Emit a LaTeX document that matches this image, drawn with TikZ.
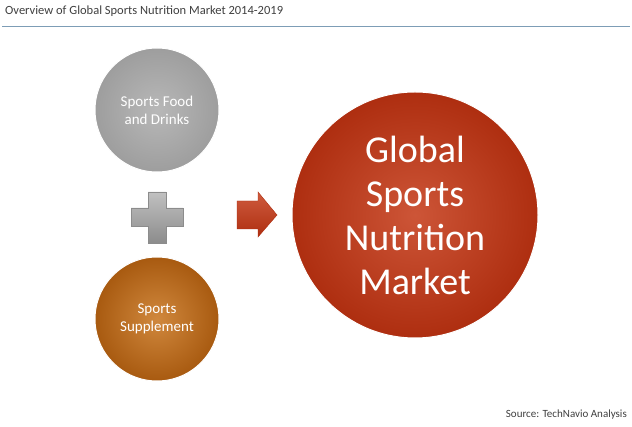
\documentclass[tikz,border=0pt]{standalone}
\usepackage{fontspec}
\setmainfont{Carlito}
\definecolor{titleline}{HTML}{7D9DB6}
\definecolor{grayc}{HTML}{A6A6A6}
\definecolor{grayd}{HTML}{8C8C8C}
\definecolor{orangec}{HTML}{C8731B}
\definecolor{oranged}{HTML}{A85A10}
\definecolor{redc}{HTML}{C63E1C}
\definecolor{redd}{HTML}{AE2E10}
\definecolor{txtgray}{HTML}{404040}
\tikzset{
  bubble/.style={circle, inner sep=0pt, text=white, align=center, draw=white, line width=1pt},
  smallbub/.style={bubble, minimum size=124pt, font=\fontsize{15}{18}\selectfont},
  bigbub/.style={bubble, minimum size=246pt, font=\fontsize{38}{44}\selectfont},
  plusbar/.style={draw=grayd, line width=0.4pt},
}
\begin{document}
\begin{tikzpicture}[x=1pt,y=-1pt]
\useasboundingbox (0,0) rectangle (632,427);
\fill[white] (0,0) rectangle (632,427);
\node[anchor=base west, text=txtgray, font=\fontsize{12.5}{15}\selectfont, inner sep=0pt] (title) at (5,15) {Overview of Global Sports Nutrition Market 2014-2019};
\coordinate (tl) at (2,26);
\coordinate (tr) at (630,26);
\draw[titleline, line width=0.8pt] (tl) -- (tr);

\node[smallbub, shading=radial, inner color=grayc!80!white, outer color=grayc!95!black] (food) at (157,110) {Sports Food\\and Drinks};
\node[smallbub, shading=radial, inner color=orangec!85!white, outer color=oranged] (supp) at (157,319) {Sports\\Supplement};
\node[bigbub, shading=radial, inner color=redc!88!white, outer color=redd] (market) at (415,215) {Global\\Sports\\Nutrition\\Market};

% plus sign
\path[plusbar, top color=grayc!70!white, bottom color=grayd]
  (148,192) -- (166,192) -- (166,208) -- (183,208) -- (183,226) -- (166,226) -- (166,243) -- (148,243) -- (148,226) -- (131,226) -- (131,208) -- (148,208) -- cycle;
\node[inner sep=0pt, minimum size=0pt] (plus) at (157,217) {};

% arrow
\path[draw=redd, line width=0.4pt, top color=redc!85!white, bottom color=redd]
  (237,201) -- (258,201) -- (258,192) -- (277,215) -- (258,237) -- (258,229) -- (237,229) -- cycle;
\node[inner sep=0pt, minimum size=0pt] (arr) at (257,215) {};

\node[anchor=base east, text=txtgray, font=\fontsize{11}{13}\selectfont, inner sep=0pt] (src) at (627,418) {Source: TechNavio Analysis};
\end{tikzpicture}
\end{document}
